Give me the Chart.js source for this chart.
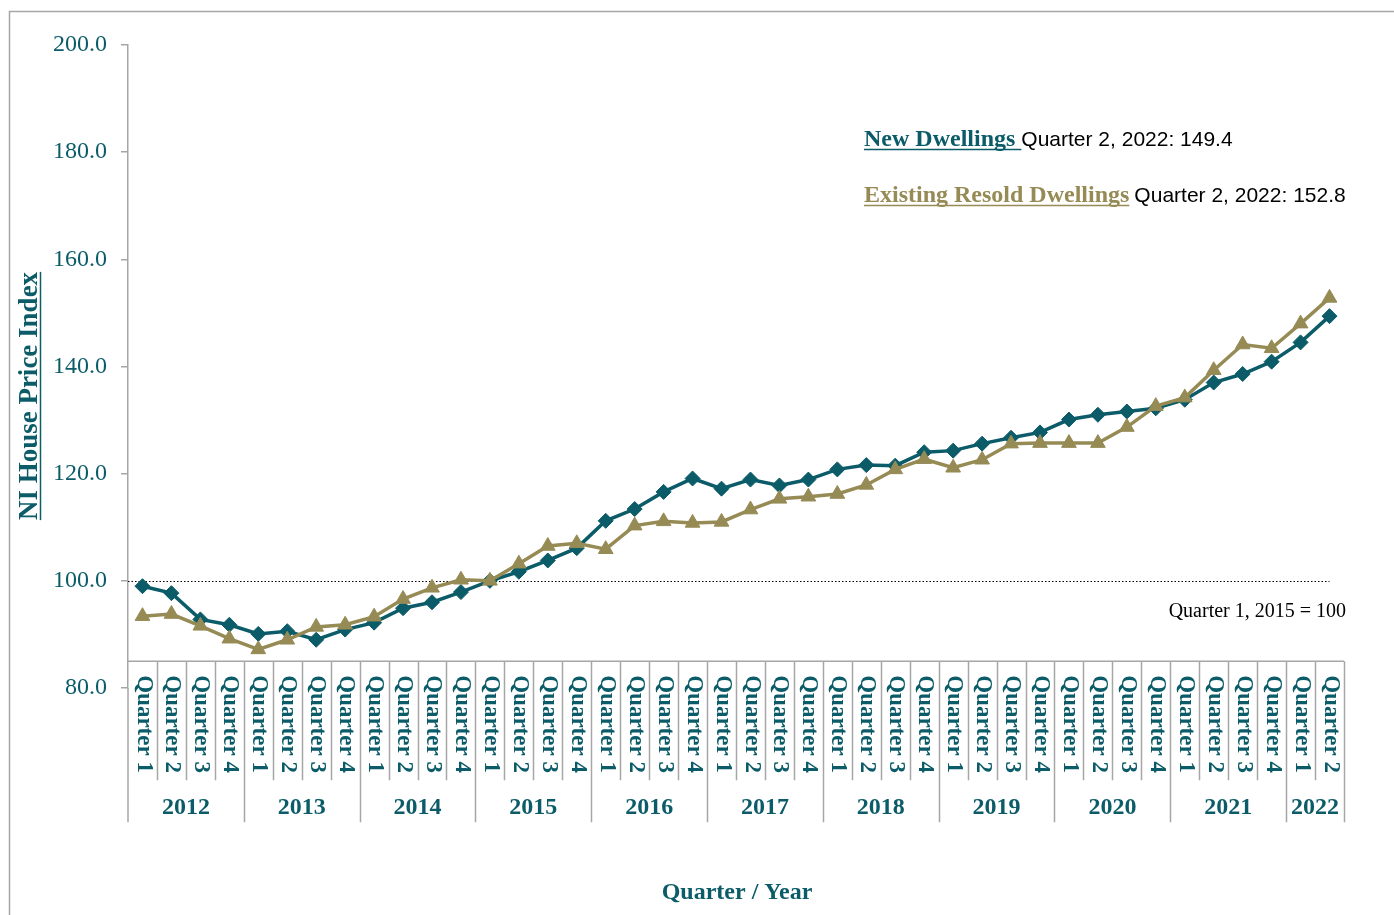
<!DOCTYPE html>
<html>
<head>
<meta charset="utf-8">
<script src="https://cdn.jsdelivr.net/npm/chart.js@4.4.1/dist/chart.umd.min.js"></script>
<style>
  html, body { margin: 0; padding: 0; background: #fff; }
  #wrap { width: 1394px; height: 915px; position: relative; }
</style>
</head>
<body>
<div id="wrap"><canvas id="hpiChart"></canvas></div>
<script>
// categories
var years = ["2012", "2013", "2014", "2015", "2016", "2017", "2018", "2019", "2020", "2021", "2022"];
var quartersInYear = [4, 4, 4, 4, 4, 4, 4, 4, 4, 4, 2];

// NI House Price Index, Quarter 1 2015 = 100
var newDwellings = [
  99.0, 97.7, 92.8, 91.8,
  90.1, 90.6, 89.0, 90.9,
  92.2, 94.9, 96.0, 97.9,
  100.0, 101.7, 103.8, 106.1,
  111.2, 113.4, 116.6, 119.1,
  117.2, 118.9, 117.8, 118.9,
  120.8, 121.6, 121.5, 124.0,
  124.3, 125.6, 126.7, 127.7,
  130.1, 131.0, 131.6, 132.2,
  133.8, 137.0, 138.6, 140.9,
  144.5, 149.4
];
var existingDwellings = [
  93.4, 93.8, 91.6, 89.2,
  87.2, 89.0, 91.4, 91.8,
  93.3, 96.6, 98.7, 100.2,
  100.0, 103.2, 106.5, 107.0,
  105.9, 110.3, 111.1, 110.8,
  111.0, 113.3, 115.3, 115.7,
  116.2, 117.9, 120.8, 122.7,
  121.1, 122.6, 125.6, 125.7,
  125.7, 125.7, 128.7, 132.6,
  134.2, 139.3, 144.1, 143.4,
  148.0, 152.8
];

var yTicks = [80, 100, 120, 140, 160, 180, 200];
var baseValue = 100;
var axisCross = 85;

var teal = "#0b5c68";
var olive = "#968b55";
var greyLine = "#a6a6a6";
var serif = "'Liberation Serif', 'DejaVu Serif', serif";
var sans = "'Liberation Sans', Arial, sans-serif";

// build the category list (quarter number + year) from the arrays above
var quarterLabels = [];
var yearOfLabel = [];
years.forEach(function (yr, i) {
  for (var q = 1; q <= quartersInYear[i]; q++) {
    quarterLabels.push("Quarter " + q);
    yearOfLabel.push(yr);
  }
});

// underline helper
function underlined(ctx, text, x, y, color) {
  ctx.fillStyle = color;
  ctx.fillText(text, x, y);
  var w = ctx.measureText(text).width;
  ctx.strokeStyle = color;
  ctx.lineWidth = 1.5;
  ctx.beginPath();
  ctx.moveTo(x, y + 3.5);
  ctx.lineTo(x + w, y + 3.5);
  ctx.stroke();
  return w;
}

var quarterAxis = {
  id: "quarterAxis",
  beforeDraw: function (chart) {
    var ctx = chart.ctx;
    ctx.save();
    ctx.fillStyle = "#fff";
    ctx.fillRect(0, 0, chart.width, chart.height);
    // outer frame
    ctx.strokeStyle = greyLine;
    ctx.lineWidth = 1.5;
    ctx.beginPath();
    ctx.moveTo(9.5, chart.height);
    ctx.lineTo(9.5, 11.5);
    ctx.lineTo(chart.width, 11.5);
    ctx.stroke();
    ctx.restore();
  },
  beforeDatasetsDraw: function (chart) {
    var ctx = chart.ctx;
    var area = chart.chartArea;
    var x = chart.scales.x;
    var y = chart.scales.y;
    var n = quarterLabels.length;
    var step = (area.right - area.left) / n;
    var axisY = y.getPixelForValue(axisCross);
    var qBottom = axisY + 119;
    var yBottom = axisY + 161;

    ctx.save();
    // dotted base line (Q1 2015 = 100)
    var baseY = Math.round(y.getPixelForValue(baseValue)) + 0.5;
    ctx.strokeStyle = "#000";
    ctx.lineWidth = 1.2;
    ctx.setLineDash([1.5, 2]);
    ctx.beginPath();
    ctx.moveTo(area.left, baseY);
    ctx.lineTo(x.getPixelForValue(n - 1), baseY);
    ctx.stroke();
    ctx.setLineDash([]);

    // category axis box
    ctx.strokeStyle = greyLine;
    ctx.lineWidth = 1.5;
    ctx.beginPath();
    ctx.moveTo(area.left, axisY);
    ctx.lineTo(area.right, axisY);
    ctx.moveTo(area.left, area.bottom);
    ctx.lineTo(area.left, yBottom);
    for (var k = 1; k <= n; k++) {
      var px = Math.round(area.left + k * step) + 0.5;
      var yearEdge = k === n || yearOfLabel[k] !== yearOfLabel[k - 1];
      ctx.moveTo(px, axisY);
      ctx.lineTo(px, yearEdge ? yBottom : qBottom);
    }
    ctx.stroke();

    // quarter labels, rotated
    ctx.fillStyle = teal;
    ctx.font = "bold 23px " + serif;
    ctx.textAlign = "left";
    ctx.textBaseline = "middle";
    quarterLabels.forEach(function (lab, i) {
      ctx.save();
      ctx.translate(x.getPixelForValue(i) + 1, axisY + 14);
      ctx.rotate(Math.PI / 2);
      ctx.fillText(lab, 0, 0);
      ctx.restore();
    });

    // year labels
    ctx.font = "bold 24px " + serif;
    ctx.textAlign = "center";
    var start = 0;
    years.forEach(function (yr, i) {
      var cnt = quartersInYear[i];
      var cx = area.left + (start + cnt / 2) * step;
      ctx.fillText(yr, cx, axisY + 147);
      start += cnt;
    });
    ctx.restore();
  },
  afterDraw: function (chart) {
    var ctx = chart.ctx;
    ctx.save();

    // y axis title
    ctx.save();
    ctx.translate(37, 396);
    ctx.rotate(-Math.PI / 2);
    ctx.font = "bold 27px " + serif;
    ctx.textBaseline = "alphabetic";
    var tw = ctx.measureText("NI House Price Index").width;
    underlined(ctx, "NI House Price Index", -tw / 2, 0, teal);
    ctx.restore();

    // x axis title
    ctx.font = "bold 24px " + serif;
    ctx.fillStyle = teal;
    ctx.textAlign = "center";
    ctx.textBaseline = "middle";
    ctx.fillText("Quarter / Year", 737, 893);

    // base note
    ctx.font = "20px " + serif;
    ctx.fillStyle = "#000";
    ctx.textAlign = "right";
    ctx.fillText("Quarter 1, 2015 = 100", 1346, 612);

    // latest values
    ctx.textAlign = "left";
    ctx.textBaseline = "alphabetic";
    var lines = [
      { name: "New Dwellings ", color: teal, value: newDwellings, y: 146 },
      { name: "Existing Resold Dwellings", color: olive, value: existingDwellings, y: 202 }
    ];
    lines.forEach(function (l) {
      ctx.font = "bold 24px " + serif;
      var w = underlined(ctx, l.name, 864, l.y, l.color);
      ctx.font = "21px " + sans;
      ctx.fillStyle = "#000";
      var last = l.value[l.value.length - 1];
      var gap = l.name.slice(-1) === " " ? 0 : 5;
      ctx.fillText("Quarter 2, " + years[years.length - 1] + ": " + last.toFixed(1), 864 + w + gap, l.y);
    });
    ctx.restore();
  }
};

var hpiChart = new Chart(document.getElementById("hpiChart"), {
  type: "line",
  data: {
    labels: quarterLabels,
    datasets: [{
      label: "New Dwellings",
      data: newDwellings,
      borderColor: teal,
      backgroundColor: teal,
      borderWidth: 3.5,
      pointStyle: "rectRot",
      pointRadius: 7.5,
      pointBorderWidth: 1,
      order: 1,
      fill: false
    }, {
      label: "Existing Resold Dwellings",
      data: existingDwellings,
      borderColor: olive,
      backgroundColor: olive,
      borderWidth: 3.5,
      pointStyle: "triangle",
      pointRadius: 8.5,
      pointBorderWidth: 1,
      order: 0,
      fill: false
    }]
  },
  options: {
    responsive: true,
    maintainAspectRatio: false,
    animation: false,
    layout: { padding: { left: 9, top: 45, right: 50, bottom: 227 } },
    plugins: {
      legend: { display: false },
      tooltip: { enabled: false }
    },
    scales: {
      x: {
        type: "category",
        offset: true,
        display: false
      },
      y: {
        min: yTicks[0],
        max: yTicks[yTicks.length - 1],
        afterFit: function (scale) { scale.width = 119; },
        afterBuildTicks: function (scale) {
          scale.ticks = yTicks.map(function (v) { return { value: v }; });
        },
        ticks: {
          color: teal,
          padding: 14,
          font: { family: serif, size: 24 },
          callback: function (v) { return Number(v).toFixed(1); }
        },
        grid: {
          drawOnChartArea: false,
          drawTicks: true,
          tickLength: 7,
          color: greyLine,
          lineWidth: 1.5
        },
        border: { color: greyLine, width: 1.5 }
      }
    }
  },
  plugins: [quarterAxis]
});
</script>
</body>
</html>
